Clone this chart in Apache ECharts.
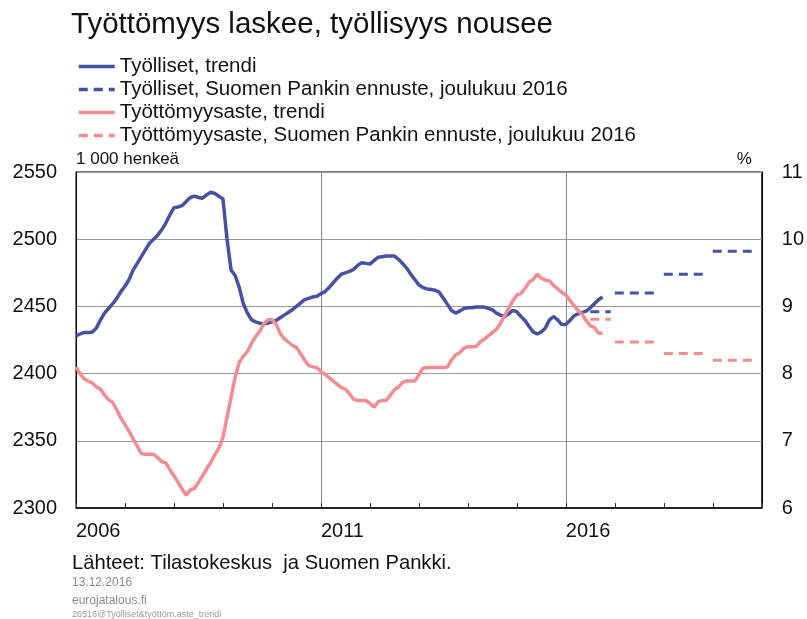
<!DOCTYPE html>
<html>
<head>
<meta charset="utf-8">
<script src="https://cdn.jsdelivr.net/npm/echarts@6/dist/echarts.min.js"></script>
<style>
  html, body { margin: 0; padding: 0; background: #fff; }
  #chart { width: 807px; height: 619px; }
</style>
</head>
<body>
<div id="chart"></div>
<script>
// years on the x axis (monthly categories, Jan 2006 .. Jan 2020)
const years = [2006, 2007, 2008, 2009, 2010, 2011, 2012, 2013, 2014, 2015, 2016, 2017, 2018, 2019, 2020];

// Työlliset, trendi (1 000 henkeä), monthly from Jan 2006
const employed = [
  2428, 2429.5, 2430.5, 2430.5, 2431, 2434, 2440, 2445, 2448.5, 2452, 2456, 2461,
  2465, 2470, 2477, 2482, 2487, 2492, 2497, 2500, 2503, 2507, 2512, 2518,
  2523.5, 2524, 2525, 2528, 2531, 2532, 2531, 2530.5, 2533, 2535, 2534, 2532,
  2530, 2500, 2477, 2473, 2464, 2452, 2445, 2440, 2438.5, 2437.5, 2437, 2437.5,
  2438.5, 2439.5, 2441.5, 2443.5, 2445.5, 2447.5, 2450, 2452.5, 2455, 2456, 2457, 2457.5,
  2459.5, 2461, 2464, 2467.5, 2471, 2474, 2475, 2476, 2477.5, 2480.5, 2482.5, 2482,
  2481.5, 2484, 2486.5, 2487, 2487.5, 2487.5, 2487.5, 2485, 2482, 2478.5, 2474, 2470,
  2466, 2464, 2463, 2462.5, 2462, 2460.5, 2456, 2451.5, 2447, 2445, 2446.5, 2448.5,
  2449, 2449, 2449.5, 2449.5, 2449.5, 2448.5, 2447.5, 2445, 2443.5, 2442.5, 2444.5, 2447,
  2446, 2442.5, 2439.5, 2435, 2431, 2429.5, 2431, 2434, 2440, 2442.5, 2440, 2436.5,
  2436.5, 2439.5, 2443, 2444.5, 2445.5, 2446.5, 2449, 2452, 2455, 2457
];

// Työttömyysaste, trendi (%), monthly from Jan 2006
const unemployment = [
  8.10, 8.00, 7.92, 7.89, 7.86, 7.80, 7.77, 7.68, 7.61, 7.57, 7.46, 7.34,
  7.24, 7.14, 7.03, 6.92, 6.81, 6.80, 6.80, 6.80, 6.75, 6.69, 6.67, 6.57,
  6.48, 6.38, 6.28, 6.19, 6.27, 6.29, 6.38, 6.48, 6.58, 6.68, 6.79, 6.89,
  7.05, 7.35, 7.65, 7.95, 8.17, 8.26, 8.33, 8.45, 8.55, 8.63, 8.74, 8.80,
  8.80, 8.74, 8.60, 8.52, 8.47, 8.42, 8.39, 8.30, 8.20, 8.12, 8.10, 8.09,
  8.03, 7.99, 7.94, 7.89, 7.84, 7.79, 7.77, 7.70, 7.62, 7.60, 7.60, 7.60,
  7.56, 7.50, 7.58, 7.60, 7.60, 7.68, 7.76, 7.80, 7.87, 7.89, 7.89, 7.89,
  7.98, 8.08, 8.09, 8.09, 8.09, 8.09, 8.09, 8.10, 8.20, 8.28, 8.31, 8.38,
  8.40, 8.40, 8.40, 8.47, 8.51, 8.56, 8.61, 8.66, 8.75, 8.86, 8.97, 9.08,
  9.17, 9.19, 9.27, 9.36, 9.40, 9.48, 9.42, 9.39, 9.38, 9.31, 9.26, 9.21,
  9.17, 9.09, 9.01, 8.94, 8.88, 8.79, 8.71, 8.69, 8.60, 8.60
];

// Suomen Pankin ennuste, joulukuu 2016 (annual levels)
const forecastYears = [2016, 2017, 2018, 2019];
const forecastStartMonth = [7, 1, 1, 1];
const employedForecast = [2446, 2460, 2474, 2491];
const unemploymentForecast = [8.81, 8.47, 8.30, 8.20];

const names = [
  'Työlliset, trendi',
  'Työlliset, Suomen Pankin ennuste, joulukuu 2016',
  'Työttömyysaste, trendi',
  'Työttömyysaste, Suomen Pankin ennuste, joulukuu 2016'
];

const blue = '#4651a6';
const pink = '#f28c91';
const font = 'Liberation Sans, Arial, sans-serif';

const months = [];
years.forEach(y => {
  for (let m = 1; m <= 12; m++) {
    if (y === years[years.length - 1] && m > 1) break;
    months.push(y + '-' + (m < 10 ? '0' + m : m));
  }
});

function forecastData(i, values) {
  const data = months.map(() => null);
  const y = forecastYears[i];
  for (let m = forecastStartMonth[i]; m <= 12; m++) {
    data[(y - years[0]) * 12 + m - 1] = values[i];
  }
  return data;
}

const series = [
  {
    name: names[0], type: 'line', yAxisIndex: 0, symbol: 'none',
    lineStyle: { color: blue, width: 3.5 }, itemStyle: { color: blue },
    data: employed
  },
  {
    name: names[2], type: 'line', yAxisIndex: 1, symbol: 'none',
    lineStyle: { color: pink, width: 3.5 }, itemStyle: { color: pink },
    data: unemployment
  }
];
forecastYears.forEach((y, i) => {
  series.push({
    name: names[1], type: 'line', yAxisIndex: 0, symbol: 'none',
    lineStyle: { color: blue, width: 3, type: [9, 6] }, itemStyle: { color: blue },
    data: forecastData(i, employedForecast)
  });
  series.push({
    name: names[3], type: 'line', yAxisIndex: 1, symbol: 'none',
    lineStyle: { color: pink, width: 3, type: [9, 6] }, itemStyle: { color: pink },
    data: forecastData(i, unemploymentForecast)
  });
});

const chart = echarts.init(document.getElementById('chart'), null, { renderer: 'canvas' });
chart.setOption({
  animation: false,
  textStyle: { fontFamily: font },
  title: [
    { text: 'Työttömyys laskee, työllisyys nousee', left: 66, top: 5,
      textStyle: { fontSize: 29.5, fontWeight: 'normal', color: '#111', fontFamily: font } },
    { text: 'Lähteet: Tilastokeskus  ja Suomen Pankki.', left: 67, top: 548,
      textStyle: { fontSize: 20.2, fontWeight: 'normal', color: '#111', fontFamily: font } },
    { text: '13.12.2016', left: 67, top: 572,
      textStyle: { fontSize: 12, fontWeight: 'normal', color: '#8a8a8a', fontFamily: font } },
    { text: 'eurojatalous.fi', left: 67, top: 590,
      textStyle: { fontSize: 12, fontWeight: 'normal', color: '#8a8a8a', fontFamily: font } },
    { text: '26516@Työlliset&työttöm.aste_trendi', left: 67, top: 605,
      textStyle: { fontSize: 9, fontWeight: 'normal', color: '#999', fontFamily: font } }
  ],
  legend: {
    data: names,
    orient: 'vertical',
    left: 72, top: 51,
    itemWidth: 36, itemHeight: 10, itemGap: 2,
    itemStyle: { opacity: 0 },
    lineStyle: { width: 3.5 },
    textStyle: { fontSize: 20.5, color: '#111', lineHeight: 20, fontFamily: font }
  },
  grid: {
    left: 76, right: 45, top: 172, bottom: 111,
    show: true, borderColor: '#000', borderWidth: 1
  },
  xAxis: {
    type: 'category',
    data: months,
    boundaryGap: false,
    axisLine: { lineStyle: { color: '#000', width: 1.5 } },
    axisTick: { inside: true, length: 5, lineStyle: { color: '#333' },
      interval: (i) => i % 12 === 0 },
    axisLabel: { interval: (i) => i % 60 === 0, align: 'left', margin: 13,
      fontSize: 20, color: '#111', formatter: (v) => v.slice(0, 4) },
    splitLine: { show: true, interval: (i) => i > 0 && i % 60 === 0,
      lineStyle: { color: '#888', width: 1 } }
  },
  yAxis: [
    {
      type: 'value', min: 2300, max: 2550, interval: 50,
      name: '1 000 henkeä', nameLocation: 'end', nameGap: 4,
      nameTextStyle: { align: 'left', fontSize: 17, color: '#111' },
      axisLine: { show: true, lineStyle: { color: '#000' } },
      axisTick: { show: false },
      axisLabel: { fontSize: 20, color: '#111', margin: 19, formatter: (v) => String(v) },
      splitLine: { lineStyle: { color: '#999', width: 1 } }
    },
    {
      type: 'value', min: 6, max: 11, interval: 1, position: 'right',
      name: '%', nameLocation: 'end', nameGap: 4,
      nameTextStyle: { align: 'right', fontSize: 17, color: '#111', padding: [0, 10, 0, 0] },
      axisLine: { show: true, lineStyle: { color: '#000' } },
      axisTick: { show: false },
      axisLabel: { fontSize: 20, color: '#111', margin: 20 },
      splitLine: { show: false }
    }
  ],
  series: series
});
</script>
</body>
</html>
